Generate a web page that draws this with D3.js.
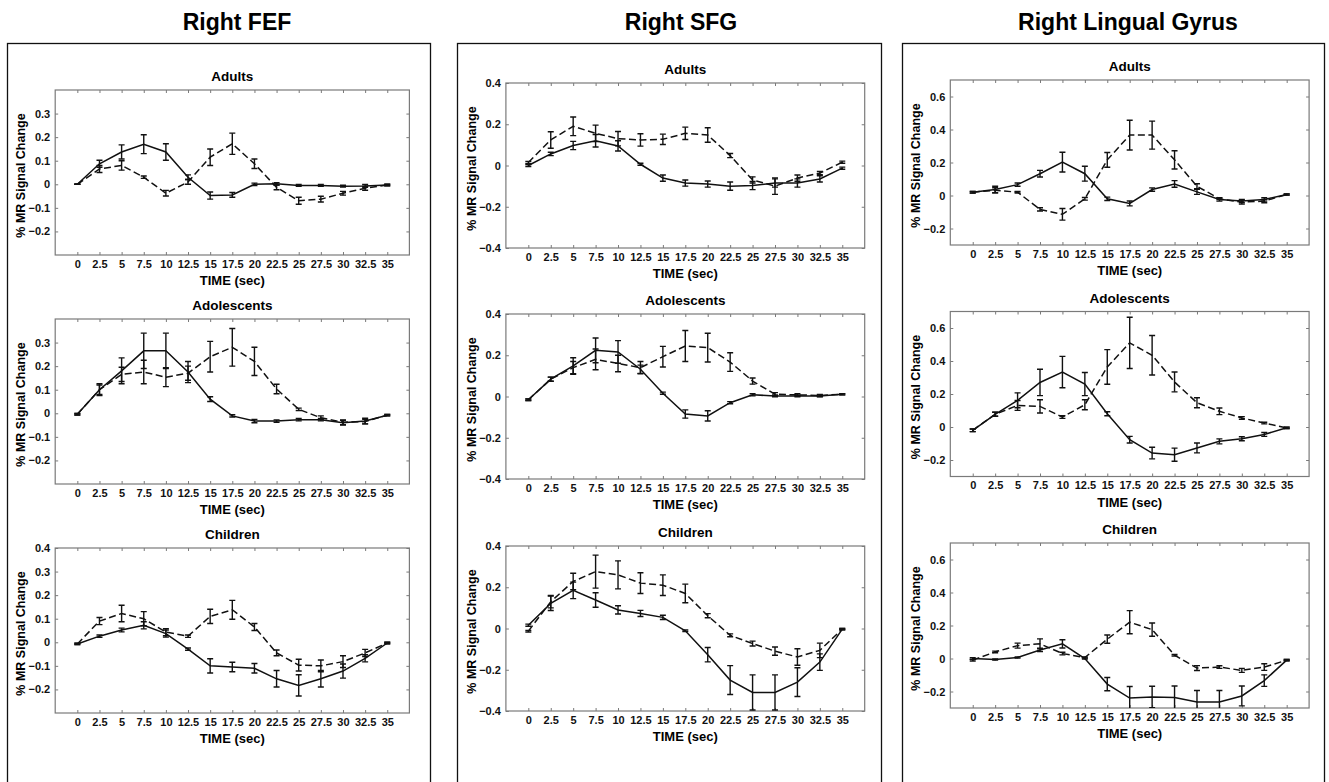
<!DOCTYPE html>
<html>
<head>
<meta charset="utf-8">
<script src="https://cdn.jsdelivr.net/npm/d3@7"></script>
<style>
  body { margin: 0; background: #fff; }
  svg { font-family: Arial, "Liberation Sans", sans-serif; }
  .tick text { font-size: 11px; font-weight: bold; fill: #111; }
</style>
</head>
<body>
<div id="chart"></div>
<script>
// time points (sec) and tick labels
var times = [0, 2.5, 5, 7.5, 10, 12.5, 15, 17.5, 20, 22.5, 25, 27.5, 30, 32.5, 35];
var xTickLabels = ["0", "2.5", "5", "7.5", "10", "12.5", "15", "17.5", "20", "22.5", "25", "27.5", "30", "32.5", "35"];

var regionNames = ["Right FEF", "Right SFG", "Right Lingual Gyrus"];
var groupNames = ["Adults", "Adolescents", "Children"];

// y domains / ticks per region
var fefDomain = [-0.3, 0.4];
var fefTicks = [-0.2, -0.1, 0, 0.1, 0.2, 0.3];
var fefChildTicks = [-0.2, -0.1, 0, 0.1, 0.2, 0.3, 0.4];
var sfgDomain = [-0.4, 0.4];
var sfgTicks = [-0.4, -0.2, 0, 0.2, 0.4];
var lingDomain = [-0.3, 0.7];
var lingTicks = [-0.2, 0, 0.2, 0.4, 0.6];

// Right FEF
var fefAdultsA = [0, 0.087, 0.137, 0.17, 0.137, 0.03, -0.048, -0.045, 0, 0.002, -0.005, -0.005, -0.008, -0.007, -0.003];
var fefAdultsAErr = [0, 0.015, 0.03, 0.04, 0.035, 0.01, 0.015, 0.01, 0.005, 0.005, 0.004, 0.004, 0.004, 0.006, 0.003];
var fefAdultsB = [0, 0.065, 0.08, 0.03, -0.038, 0.01, 0.115, 0.172, 0.087, -0.013, -0.07, -0.063, -0.038, -0.017, -0.003];
var fefAdultsBErr = [0, 0.015, 0.02, 0.005, 0.012, 0.01, 0.035, 0.045, 0.02, 0.01, 0.015, 0.012, 0.008, 0.008, 0.003];

var fefAdolA = [-0.004, 0.1, 0.18, 0.265, 0.265, 0.175, 0.06, -0.011, -0.033, -0.033, -0.027, -0.027, -0.04, -0.033, -0.008];
var fefAdolAErr = [0.003, 0.025, 0.055, 0.075, 0.075, 0.045, 0.01, 0.005, 0.007, 0.005, 0.005, 0.005, 0.01, 0.012, 0.003];
var fefAdolB = [-0.004, 0.1, 0.165, 0.175, 0.153, 0.17, 0.24, 0.28, 0.22, 0.103, 0.017, -0.019, -0.038, -0.035, -0.008];
var fefAdolBErr = [0.003, 0.02, 0.03, 0.05, 0.04, 0.03, 0.065, 0.08, 0.06, 0.02, 0.005, 0.008, 0.01, 0.01, 0.003];

var fefChildA = [-0.007, 0.026, 0.052, 0.072, 0.037, -0.029, -0.1, -0.105, -0.11, -0.155, -0.183, -0.155, -0.122, -0.068, -0.003];
var fefChildAErr = [0.003, 0.005, 0.008, 0.015, 0.015, 0.005, 0.03, 0.02, 0.02, 0.035, 0.045, 0.035, 0.03, 0.015, 0.003];
var fefChildB = [-0.007, 0.09, 0.122, 0.1, 0.043, 0.026, 0.11, 0.138, 0.065, -0.045, -0.097, -0.1, -0.082, -0.045, -0.003];
var fefChildBErr = [0.003, 0.015, 0.035, 0.03, 0.015, 0.005, 0.03, 0.04, 0.015, 0.012, 0.025, 0.025, 0.025, 0.015, 0.003];

// Right SFG
var sfgAdultsA = [0, 0.056, 0.097, 0.12, 0.095, 0.006, -0.061, -0.085, -0.09, -0.1, -0.097, -0.085, -0.085, -0.065, -0.013];
var sfgAdultsAErr = [0.005, 0.008, 0.02, 0.03, 0.025, 0.005, 0.015, 0.015, 0.015, 0.02, 0.02, 0.02, 0.02, 0.015, 0.005];
var sfgAdultsB = [0.015, 0.124, 0.19, 0.156, 0.13, 0.124, 0.127, 0.156, 0.148, 0.048, -0.07, -0.1, -0.061, -0.037, 0.016];
var sfgAdultsBErr = [0.005, 0.04, 0.045, 0.04, 0.035, 0.03, 0.025, 0.03, 0.035, 0.01, 0.015, 0.04, 0.015, 0.008, 0.005];

var sfgAdolA = [-0.016, 0.084, 0.148, 0.224, 0.216, 0.132, 0.016, -0.085, -0.094, -0.03, 0.008, 0.003, 0.003, 0.003, 0.011];
var sfgAdolAErr = [0.004, 0.01, 0.04, 0.06, 0.055, 0.02, 0.005, 0.02, 0.025, 0.005, 0.005, 0.004, 0.004, 0.004, 0.003];
var sfgAdolB = [-0.016, 0.084, 0.14, 0.18, 0.16, 0.14, 0.193, 0.245, 0.237, 0.167, 0.075, 0.011, 0.008, 0.005, 0.011];
var sfgAdolBErr = [0.004, 0.01, 0.03, 0.05, 0.04, 0.03, 0.05, 0.075, 0.07, 0.045, 0.015, 0.008, 0.005, 0.005, 0.003];

var sfgChildA = [0.016, 0.122, 0.185, 0.138, 0.09, 0.073, 0.054, -0.011, -0.127, -0.25, -0.31, -0.31, -0.26, -0.163, -0.003];
var sfgChildAErr = [0.005, 0.035, 0.04, 0.035, 0.02, 0.015, 0.01, 0.004, 0.035, 0.07, 0.085, 0.085, 0.07, 0.04, 0.003];
var sfgChildB = [-0.013, 0.13, 0.228, 0.276, 0.26, 0.22, 0.21, 0.17, 0.062, -0.033, -0.073, -0.11, -0.138, -0.106, -0.003];
var sfgChildBErr = [0.004, 0.03, 0.04, 0.08, 0.068, 0.05, 0.05, 0.045, 0.01, 0.007, 0.012, 0.02, 0.04, 0.035, 0.003];

// Right Lingual Gyrus
var lingAdultsA = [0.02, 0.036, 0.066, 0.132, 0.202, 0.132, -0.02, -0.048, 0.036, 0.07, 0.022, -0.024, -0.034, -0.024, 0.006];
var lingAdultsAErr = [0.005, 0.02, 0.01, 0.02, 0.06, 0.045, 0.01, 0.015, 0.01, 0.02, 0.015, 0.01, 0.01, 0.01, 0.004];
var lingAdultsB = [0.02, 0.032, 0.02, -0.084, -0.114, -0.02, 0.216, 0.366, 0.366, 0.216, 0.056, -0.02, -0.04, -0.034, 0.006];
var lingAdultsBErr = [0.005, 0.015, 0.005, 0.01, 0.035, 0.008, 0.045, 0.09, 0.085, 0.055, 0.015, 0.005, 0.012, 0.01, 0.004];

var lingAdolA = [-0.02, 0.077, 0.162, 0.27, 0.333, 0.26, 0.08, -0.077, -0.158, -0.168, -0.127, -0.087, -0.071, -0.045, -0.005];
var lingAdolAErr = [0.008, 0.012, 0.045, 0.08, 0.095, 0.07, 0.012, 0.02, 0.035, 0.04, 0.03, 0.015, 0.012, 0.012, 0.004];
var lingAdolB = [-0.02, 0.077, 0.131, 0.125, 0.06, 0.135, 0.364, 0.51, 0.435, 0.273, 0.147, 0.095, 0.055, 0.024, -0.005];
var lingAdolBErr = [0.008, 0.012, 0.03, 0.04, 0.008, 0.03, 0.105, 0.155, 0.12, 0.06, 0.03, 0.02, 0.008, 0.005, 0.004];

var lingChildA = [0, -0.006, 0.006, 0.052, 0.089, 0, -0.155, -0.24, -0.233, -0.237, -0.264, -0.264, -0.227, -0.134, -0.01];
var lingChildAErr = [0.005, 0.004, 0.004, 0.01, 0.025, 0.004, 0.04, 0.07, 0.065, 0.07, 0.07, 0.07, 0.06, 0.035, 0.004];
var lingChildB = [-0.01, 0.04, 0.078, 0.089, 0.03, 0.006, 0.117, 0.22, 0.175, 0.02, -0.058, -0.052, -0.072, -0.052, -0.01];
var lingChildBErr = [0.005, 0.005, 0.015, 0.03, 0.008, 0.004, 0.025, 0.07, 0.04, 0.005, 0.015, 0.008, 0.012, 0.02, 0.004];

var svgWidth = 1329;
var svgHeight = 782;

var svg = d3.select("#chart")
  .append("svg")
  .attr("width", svgWidth)
  .attr("height", svgHeight);

// layout of the three columns
var columns = [
  { box: [7.5, 430.5], plotX: [55.2, 409.4], titleX: 237, tops: [90, 319, 548],
    domain: fefDomain, ticks: [fefTicks, fefTicks, fefChildTicks],
    series: [[fefAdultsA, fefAdultsAErr, fefAdultsB, fefAdultsBErr],
             [fefAdolA, fefAdolAErr, fefAdolB, fefAdolBErr],
             [fefChildA, fefChildAErr, fefChildB, fefChildBErr]] },
  { box: [457.5, 881.5], plotX: [505.9, 864.7], titleX: 681, tops: [83, 314, 546],
    domain: sfgDomain, ticks: [sfgTicks, sfgTicks, sfgTicks],
    series: [[sfgAdultsA, sfgAdultsAErr, sfgAdultsB, sfgAdultsBErr],
             [sfgAdolA, sfgAdolAErr, sfgAdolB, sfgAdolBErr],
             [sfgChildA, sfgChildAErr, sfgChildB, sfgChildBErr]] },
  { box: [902.5, 1324.5], plotX: [950.3, 1309.1], titleX: 1128, tops: [80, 311.5, 543],
    domain: lingDomain, ticks: [lingTicks, lingTicks, lingTicks],
    series: [[lingAdultsA, lingAdultsAErr, lingAdultsB, lingAdultsBErr],
             [lingAdolA, lingAdolAErr, lingAdolB, lingAdolBErr],
             [lingChildA, lingChildAErr, lingChildB, lingChildBErr]] }
];

var plotHeight = 165;
var frameColor = "#7a7a7a";

columns.forEach(function(col, ci) {
  // region title
  svg.append("text")
    .attr("x", col.titleX)
    .attr("y", 30)
    .attr("text-anchor", "middle")
    .style("font-size", "23px")
    .style("font-weight", "bold")
    .text(regionNames[ci]);

  // outer box (runs past the bottom edge)
  svg.append("rect")
    .attr("x", col.box[0])
    .attr("y", 43.5)
    .attr("width", col.box[1] - col.box[0])
    .attr("height", 760)
    .attr("fill", "none")
    .attr("stroke", "#111")
    .attr("stroke-width", 1.3);

  col.tops.forEach(function(top, ri) {
    var left = col.plotX[0], right = col.plotX[1];
    var bottom = top + plotHeight;

    var x = d3.scaleLinear().domain([-2.5, 37.5]).range([left, right]);
    var y = d3.scaleLinear().domain(col.domain).range([bottom, top]);

    var g = svg.append("g");

    // panel title
    g.append("text")
      .attr("x", (left + right) / 2)
      .attr("y", top - 9)
      .attr("text-anchor", "middle")
      .style("font-size", "13.5px")
      .style("font-weight", "bold")
      .text(groupNames[ri]);

    // axes with inward ticks
    var bottomAxis = d3.axisBottom(x).tickValues(times)
      .tickFormat(function(d, i) { return xTickLabels[i]; })
      .tickSize(-3).tickPadding(5);
    var topAxis = d3.axisTop(x).tickValues(times).tickFormat("").tickSize(-3);
    var leftAxis = d3.axisLeft(y).tickValues(col.ticks[ri])
      .tickFormat(function(d) { return d === 0 ? "0" : d3.format(".1f")(d); })
      .tickSize(-3).tickPadding(5);
    var rightAxis = d3.axisRight(y).tickValues(col.ticks[ri]).tickFormat("").tickSize(-3);

    [[bottomAxis, "translate(0," + bottom + ")"],
     [topAxis, "translate(0," + top + ")"],
     [leftAxis, "translate(" + left + ",0)"],
     [rightAxis, "translate(" + right + ",0)"]].forEach(function(a) {
      var ax = g.append("g").attr("transform", a[1]).call(a[0]);
      ax.select(".domain").remove();
      ax.selectAll(".tick line").attr("stroke", frameColor);
    });

    // frame
    g.append("rect")
      .attr("x", left).attr("y", top)
      .attr("width", right - left).attr("height", plotHeight)
      .attr("fill", "none")
      .attr("stroke", frameColor)
      .attr("stroke-width", 1.2);

    // axis labels
    g.append("text")
      .attr("x", (left + right) / 2)
      .attr("y", bottom + 30)
      .attr("text-anchor", "middle")
      .style("font-size", "13px")
      .style("font-weight", "bold")
      .text("TIME (sec)");

    g.append("text")
      .attr("transform", "translate(" + (left - 30) + "," + (top + plotHeight / 2 + 3) + ") rotate(-90)")
      .attr("text-anchor", "middle")
      .style("font-size", "12.5px")
      .style("font-weight", "bold")
      .text("% MR Signal Change");

    // clip for data
    var clipId = "clip-" + ci + "-" + ri;
    g.append("clipPath").attr("id", clipId)
      .append("rect")
      .attr("x", left).attr("y", top)
      .attr("width", right - left).attr("height", plotHeight);

    var dataG = g.append("g").attr("clip-path", "url(#" + clipId + ")");

    var s = col.series[ri];
    var lines = [
      { vals: s[0], errs: s[1], dash: null },
      { vals: s[2], errs: s[3], dash: "7,3.5" }
    ];

    var line = d3.line()
      .x(function(d, i) { return x(times[i]); })
      .y(function(d) { return y(d); });

    lines.forEach(function(ln) {
      dataG.append("path")
        .datum(ln.vals)
        .attr("d", line)
        .attr("fill", "none")
        .attr("stroke", "#111")
        .attr("stroke-width", 1.5)
        .attr("stroke-dasharray", ln.dash);

      var bars = dataG.append("g")
        .attr("stroke", "#111")
        .attr("stroke-width", 1.4)
        .selectAll("g")
        .data(ln.vals)
        .enter()
        .append("g");

      bars.append("line")
        .attr("x1", function(d, i) { return x(times[i]); })
        .attr("x2", function(d, i) { return x(times[i]); })
        .attr("y1", function(d, i) { return y(d + ln.errs[i]); })
        .attr("y2", function(d, i) { return y(d - ln.errs[i]); });

      [1, -1].forEach(function(sign) {
        bars.append("line")
          .attr("x1", function(d, i) { return x(times[i]) - 3; })
          .attr("x2", function(d, i) { return x(times[i]) + 3; })
          .attr("y1", function(d, i) { return y(d + sign * ln.errs[i]); })
          .attr("y2", function(d, i) { return y(d + sign * ln.errs[i]); });
      });
    });
  });
});
</script>
</body>
</html>
